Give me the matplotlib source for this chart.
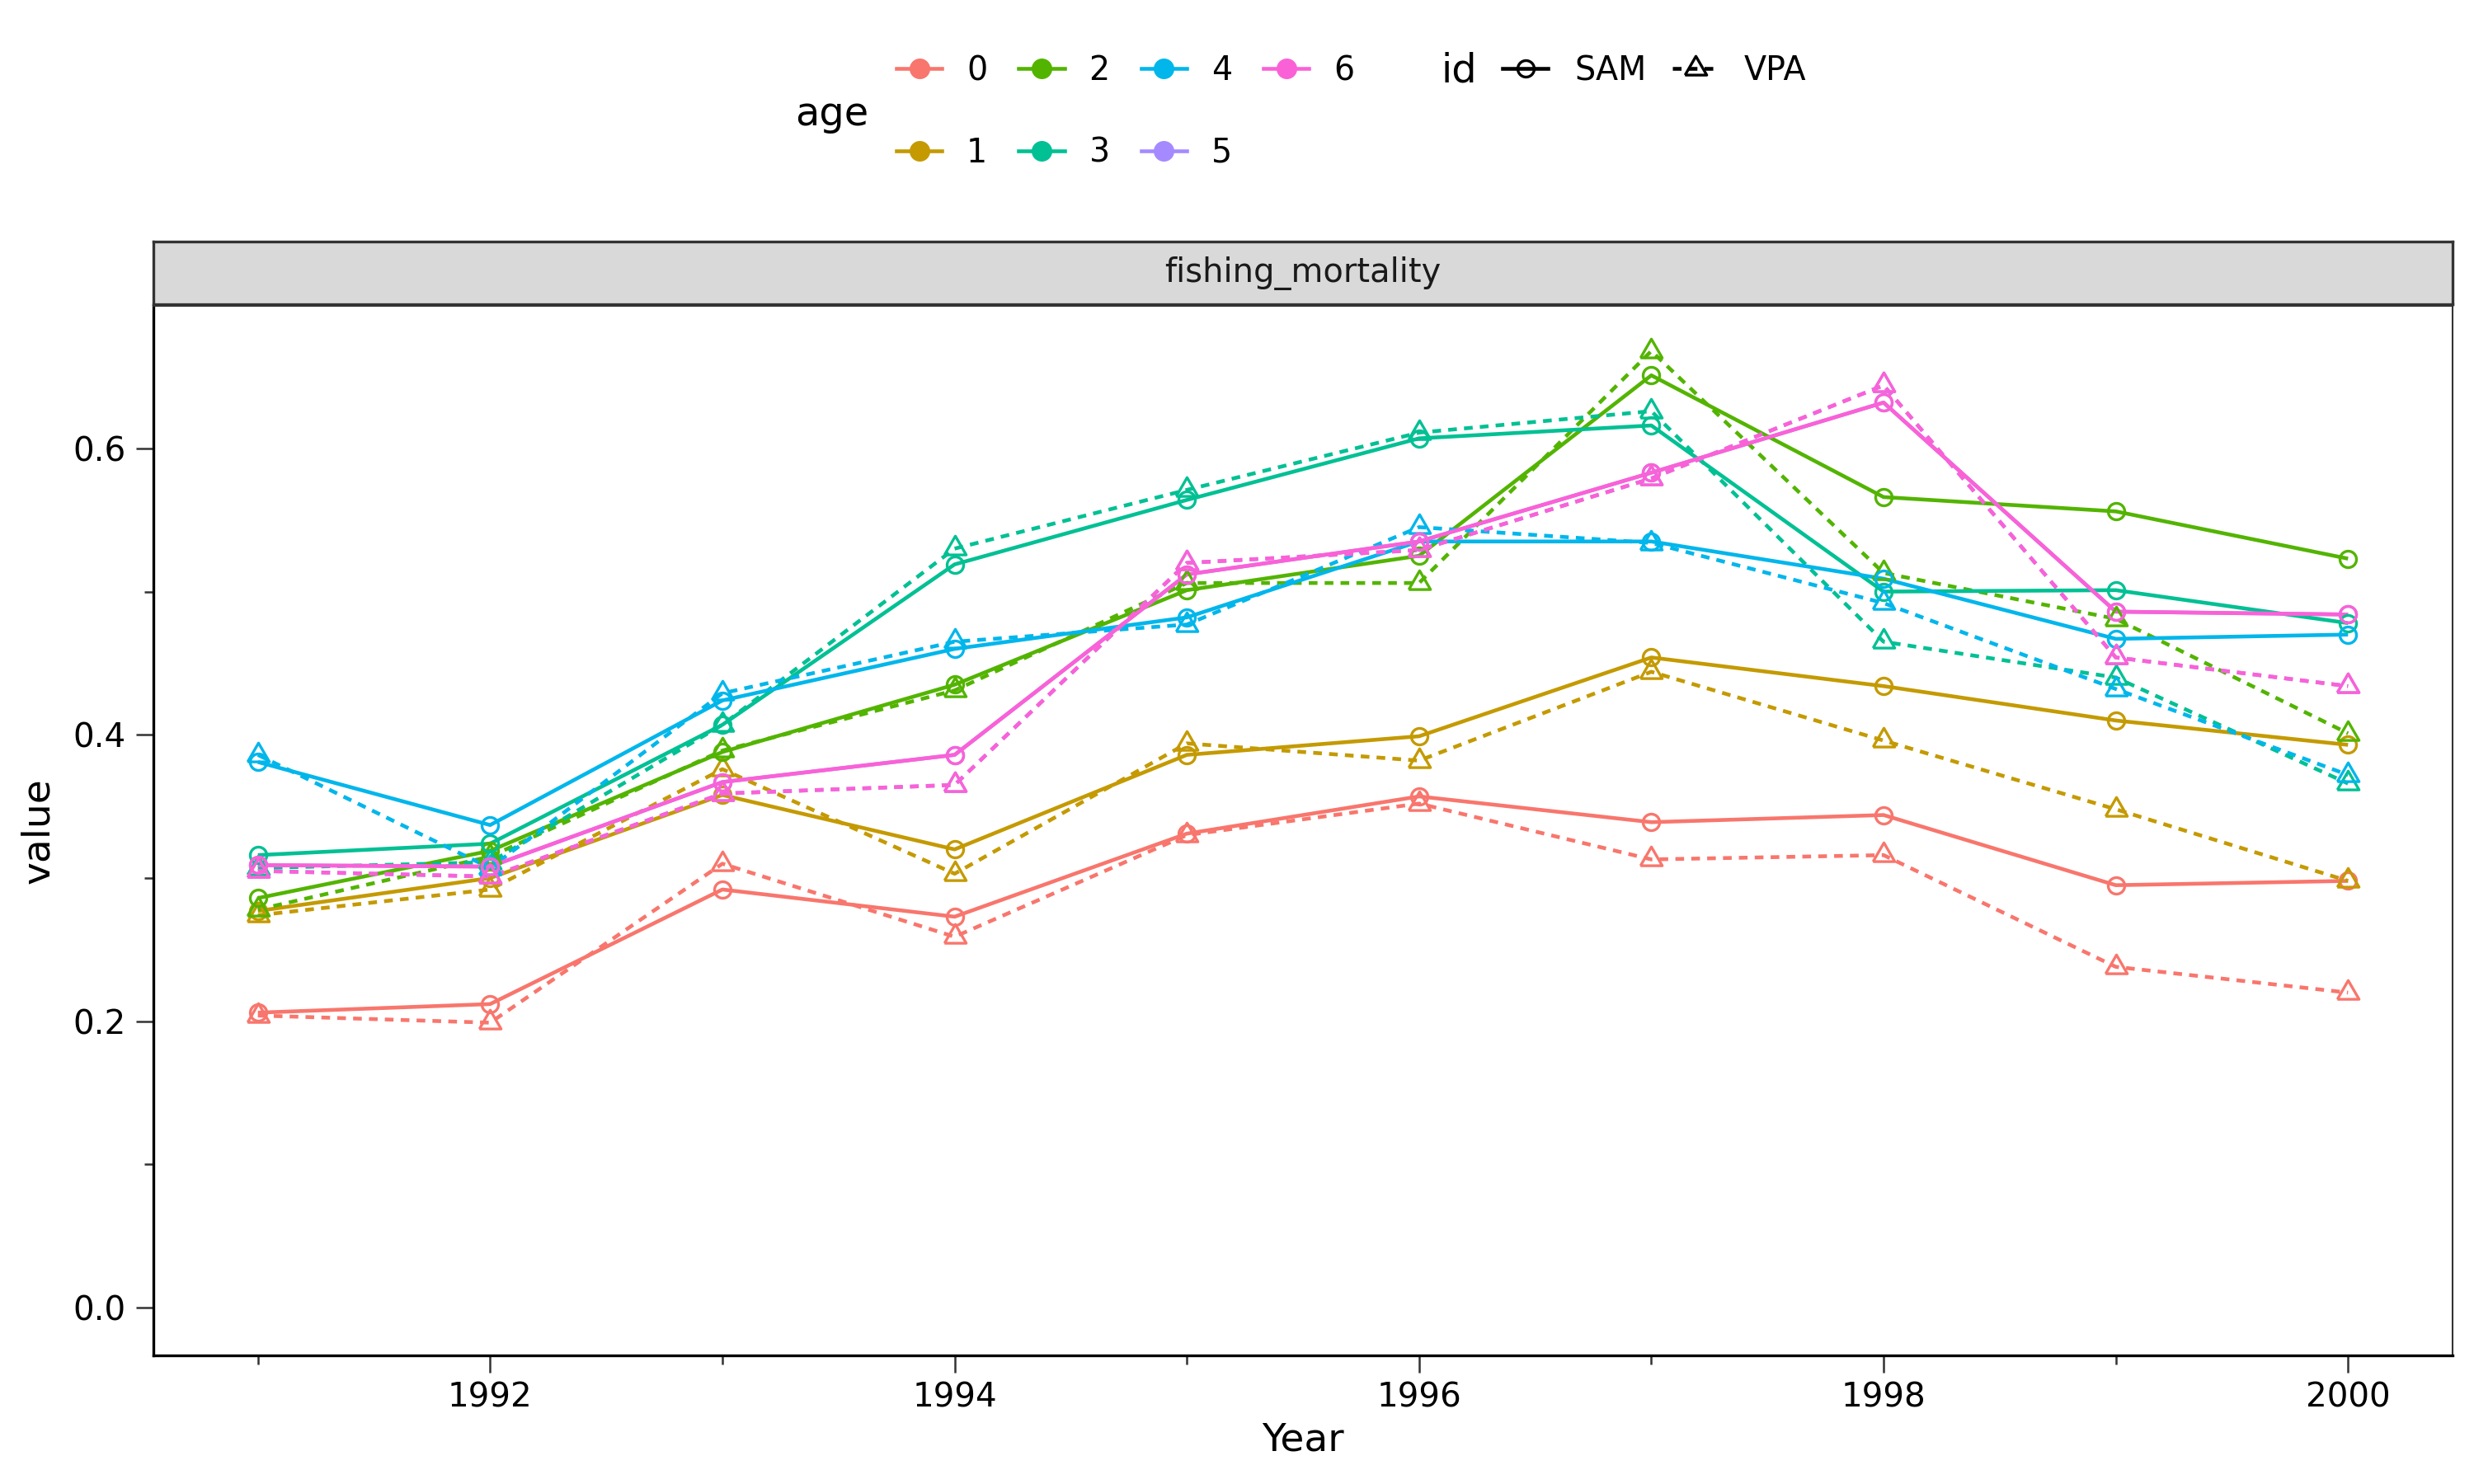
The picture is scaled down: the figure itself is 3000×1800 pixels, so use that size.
import matplotlib
matplotlib.use("Agg")
import matplotlib.pyplot as plt
from matplotlib.lines import Line2D
from matplotlib.ticker import MultipleLocator

plt.rcParams['font.family'] = ['DejaVu Sans']

years = [1991, 1992, 1993, 1994, 1995, 1996, 1997, 1998, 1999, 2000]
ages = ["0", "1", "2", "3", "4", "5", "6"]
ids = ["SAM", "VPA"]

sam_age0 = [0.206, 0.212, 0.292, 0.273, 0.331, 0.357, 0.339, 0.344, 0.295, 0.298]
vpa_age0 = [0.204, 0.199, 0.310, 0.259, 0.330, 0.352, 0.313, 0.316, 0.238, 0.220]
sam_age1 = [0.277, 0.300, 0.358, 0.320, 0.386, 0.399, 0.454, 0.434, 0.410, 0.393]
vpa_age1 = [0.274, 0.292, 0.376, 0.303, 0.394, 0.382, 0.444, 0.396, 0.348, 0.298]
sam_age2 = [0.286, 0.319, 0.388, 0.435, 0.501, 0.525, 0.651, 0.566, 0.556, 0.523]
vpa_age2 = [0.278, 0.315, 0.389, 0.431, 0.506, 0.506, 0.668, 0.513, 0.481, 0.401]
sam_age3 = [0.316, 0.324, 0.407, 0.519, 0.564, 0.607, 0.616, 0.500, 0.501, 0.478]
vpa_age3 = [0.307, 0.311, 0.407, 0.530, 0.571, 0.611, 0.626, 0.465, 0.440, 0.366]
sam_age4 = [0.381, 0.337, 0.424, 0.460, 0.482, 0.535, 0.535, 0.509, 0.467, 0.470]
vpa_age4 = [0.386, 0.307, 0.429, 0.465, 0.477, 0.545, 0.534, 0.492, 0.432, 0.372]
sam_age5 = [0.309, 0.308, 0.367, 0.386, 0.512, 0.535, 0.583, 0.632, 0.486, 0.484]
vpa_age5 = [0.305, 0.301, 0.359, 0.365, 0.520, 0.529, 0.579, 0.644, 0.454, 0.434]
sam_age6 = [0.309, 0.308, 0.367, 0.386, 0.512, 0.535, 0.583, 0.632, 0.486, 0.484]
vpa_age6 = [0.305, 0.301, 0.359, 0.365, 0.520, 0.529, 0.579, 0.644, 0.454, 0.434]

sam = [sam_age0, sam_age1, sam_age2, sam_age3, sam_age4, sam_age5, sam_age6]
vpa = [vpa_age0, vpa_age1, vpa_age2, vpa_age3, vpa_age4, vpa_age5, vpa_age6]

colors = ["#F8766D", "#C49A00", "#53B400", "#00C094", "#00B6EB", "#A58AFF", "#FB61D7"]

x_major = [1992, 1994, 1996, 1998, 2000]
y_major = [0.0, 0.2, 0.4, 0.6]

LW = 1.1
DASH = (0, (2.3, 1.9))
TRI = [(-1.0, -0.577), (1.0, -0.577), (0.0, 1.155), (-1.0, -0.577)]
CIRC_MS = 4.8
TRI_MS = 7.3
MEW = 0.8

fig = plt.figure(figsize=(10, 6), dpi=300)
L, R, B, T = 186/3000, 2974/3000, 1 - 1644/1800, 1 - 371/1800
ax = fig.add_axes([L, B, R - L, T - B])

# lines first, then points (ggplot layering)
for i in range(len(ages)):
    ax.plot(years, sam[i], color=colors[i], lw=LW, solid_capstyle='butt', zorder=2)
    ax.plot(years, vpa[i], color=colors[i], lw=LW, linestyle=DASH,
            dash_capstyle='butt', zorder=2)
for i in range(len(ages)):
    ax.plot(years, sam[i], linestyle='none', marker='o', ms=CIRC_MS, mfc='none',
            mec=colors[i], mew=MEW, zorder=3)
    ax.plot(years, vpa[i], linestyle='none', marker=TRI, ms=TRI_MS, mfc='none',
            mec=colors[i], mew=MEW, zorder=3)

ax.set_xlim(1990.55, 2000.45)
ax.set_ylim(-0.0333, 0.6995)
ax.set_xticks(x_major)
ax.set_xticklabels([str(v) for v in x_major])
ax.set_yticks(y_major)
ax.set_yticklabels([f"{v:.1f}" for v in y_major])
ax.xaxis.set_minor_locator(MultipleLocator(1))
ax.yaxis.set_minor_locator(MultipleLocator(0.1))
ax.tick_params(which='major', length=5, width=0.6, color='#333333',
               labelsize=9.7, labelcolor='black', pad=2.6)
ax.tick_params(which='minor', length=2.6, width=0.6, color='#333333')
ax.tick_params(axis='y', which='major', pad=3.0)

for s in ['left', 'bottom']:
    ax.spines[s].set_color('black')
    ax.spines[s].set_linewidth(0.8)
for s in ['top', 'right']:
    ax.spines[s].set_color('#333333')
    ax.spines[s].set_linewidth(0.5)

# strip
sax = fig.add_axes([L, 1 - 369/1800, R - L, (369 - 293)/1800])
sax.set_facecolor('#D9D9D9')
sax.set_xticks([])
sax.set_yticks([])
for s in sax.spines.values():
    s.set_color('#333333')
    s.set_linewidth(0.8)
sax.text(0.5, 0.5, "fishing_mortality", ha='center', va='center',
         fontsize=9.6, color='#1A1A1A', transform=sax.transAxes)

# axis titles
fig.text((L + R) / 2, 1 - 1747/1800, "Year", ha='center', va='center', fontsize=11.3)
fig.text(47/3000, (B + T) / 2, "value", ha='center', va='center', rotation=90, fontsize=11.3)

# legends
age_handles = [Line2D([], [], color=c, lw=1.1, marker='o', ms=5, mfc=c, mec=c)
               for c in colors]
leg1 = fig.legend(age_handles, ages, ncol=4, loc='center left',
                  bbox_to_anchor=(1087/3000, 1 - 136/1800), frameon=False,
                  fontsize=9.5, handlelength=1.4, handletextpad=0.75,
                  columnspacing=0.96, labelspacing=1.5, borderpad=0,
                  borderaxespad=0)
fig.text(964/3000, 1 - 138/1800, "age", ha='left', va='center', fontsize=11.5)

id_handles = [Line2D([], [], color='black', lw=1.1, marker='o', ms=CIRC_MS, mfc='none', mew=MEW),
              Line2D([], [], color='black', lw=1.1, linestyle=DASH, marker=TRI, ms=TRI_MS,
                     mfc='none', mew=MEW)]
leg2 = fig.legend(id_handles, ids, ncol=2, loc='center left',
                  bbox_to_anchor=(1822/3000, 1 - 86/1800), frameon=False,
                  fontsize=9.5, handlelength=1.4, handletextpad=0.8,
                  columnspacing=0.8, borderpad=0, borderaxespad=0)
fig.text(1747/3000, 1 - 86/1800, "id", ha='left', va='center', fontsize=11.5)

fig.savefig("out.png", dpi=300, facecolor='white')
